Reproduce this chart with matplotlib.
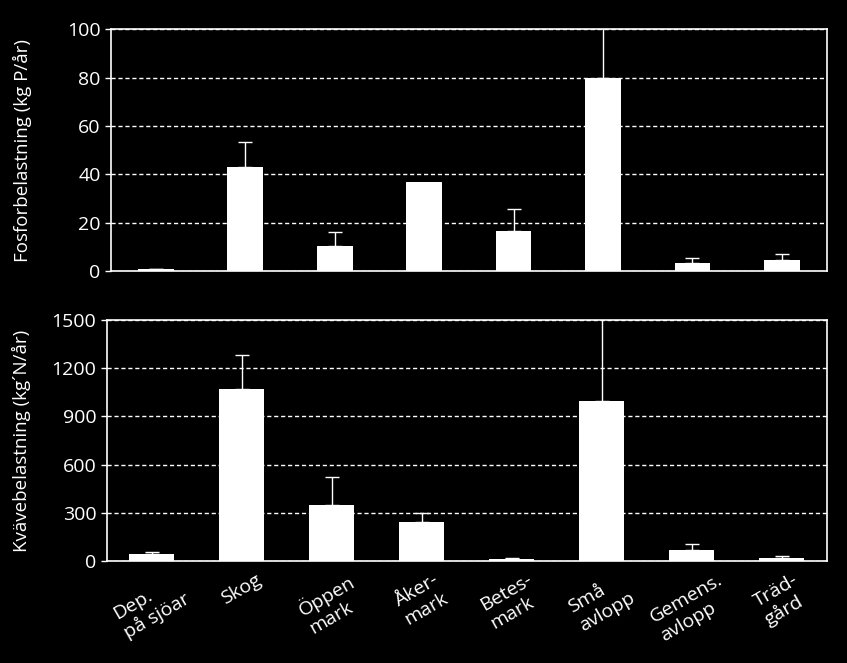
import numpy as np
import matplotlib
matplotlib.use('Agg')
from matplotlib import pyplot as plt

categories = ['Dep.\npå sjöar', 'Skog', 'Öppen\nmark', 'Åker-\nmark', 'Betes-\nmark',
              'Små\navlopp', 'Gemens.\navlopp', 'Träd-\ngård']

# fosfor (kg P/år) and upper error (0 = no error bar)
p_load = [0.7, 43, 10.3, 36.8, 16.5, 80, 3.3, 4.5]
p_err = [0.3, 10.5, 5.7, 0, 9.3, 40, 2.3, 2.8]

# kväve (kg N/år) and upper error
n_load = [44, 1069, 350, 244, 10, 994, 69, 19]
n_err = [10, 217, 175, 52, 8, 600, 35, 10]

plt.rcParams['font.family'] = ['Open Sans', 'DejaVu Sans']

fig = plt.figure(figsize=(8.47, 6.63), dpi=100, facecolor='black')
ax1 = fig.add_axes([0.131, 0.591, 0.845, 0.365])
ax2 = fig.add_axes([0.126, 0.154, 0.850, 0.363])

x = np.arange(len(categories))


def style(ax, ylim, yticks, ylabel):
    ax.set_facecolor('black')
    for s in ax.spines.values():
        s.set_color('white')
        s.set_linewidth(1.2)
    ax.set_xlim(-0.5, len(categories) - 0.5)
    ax.set_ylim(*ylim)
    ax.set_yticks(yticks)
    ax.tick_params(axis='y', colors='white', labelsize=14, direction='out',
                   length=4, width=1)
    ax.tick_params(axis='x', length=0)
    ax.yaxis.grid(True, color='white', linestyle=(0, (3, 2)), linewidth=1)
    ax.set_axisbelow(True)
    ax.set_ylabel(ylabel, color='white', fontsize=13.5)


def bars(ax, vals, errs, width):
    ax.bar(x, vals, width=width, color='white', zorder=3)
    vals = np.array(vals, dtype=float)
    errs = np.array(errs, dtype=float)
    m = errs > 0
    ax.errorbar(x[m], vals[m], yerr=[np.zeros(m.sum()), errs[m]], fmt='none',
                ecolor='white', elinewidth=1, capsize=5, capthick=1, zorder=4)


bars(ax1, p_load, p_err, 0.4)
style(ax1, (0, 100), [0, 20, 40, 60, 80, 100], 'Fosforbelastning (kg P/år)')
ax1.set_xticks(x)
ax1.set_xticklabels([])

bars(ax2, n_load, n_err, 0.5)
style(ax2, (0, 1500), [0, 300, 600, 900, 1200, 1500], 'Kvävebelastning (kg´N/år)')
ax2.set_xticks(x)
ax2.set_xticklabels(categories, rotation=30, ha='center', va='top',
                    color='white', fontsize=14, linespacing=1.2,
                    multialignment='left')
ax2.tick_params(axis='x', pad=7)

ax1.yaxis.set_label_coords(-0.11, 0.5)
ax2.yaxis.set_label_coords(-0.105, 0.5)

fig.savefig('out.png', dpi=100, facecolor='black')
